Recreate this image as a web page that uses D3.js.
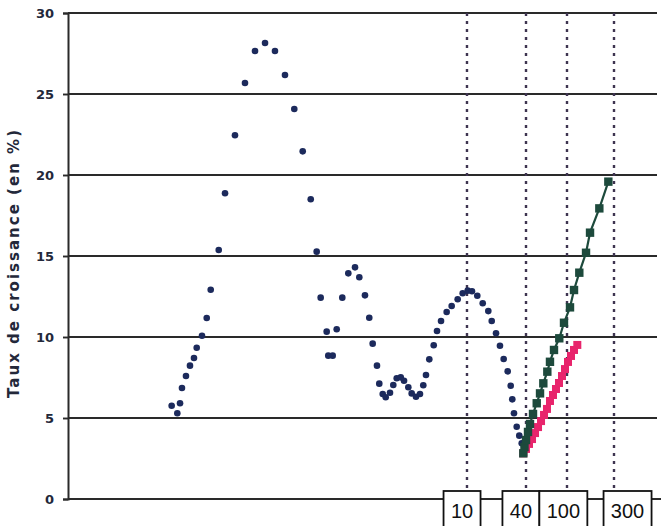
<!DOCTYPE html>
<html>
<head>
<meta charset="utf-8">
<script src="https://cdn.jsdelivr.net/npm/d3@7"></script>
<style>
  html, body { margin: 0; padding: 0; background: #fff; }
  svg { display: block; }
</style>
</head>
<body>
<svg id="chart" width="661" height="526"></svg>
<script>
// ---------- DATA ----------
const yTicks = [0, 5, 10, 15, 20, 25, 30];
const yLabel = "Taux de croissance (en %)";

// blue dotted series: [x position (abstract index), growth rate %]
const seriesBlueX = [17.6,18.56,19.02,19.35,20.03,20.71,21.39,21.85,22.75,23.55,24.23,25.59,26.66,28.35,30.05,31.75,33.45,35.14,36.84,38.42,39.85,41.21,42.22,42.9,43.92,44.19,44.94,45.62,46.57,47.59,48.73,49.46,50.42,51.15,51.73,52.46,52.85,53.43,53.94,54.67,55.23,55.81,56.49,57.05,57.78,58.35,59.08,59.76,60.32,60.78,61.34,62.09,62.65,63.33,64.29,65.14,66.16,67.01,67.86,68.59,69.49,70.41,71.36,71.94,72.67,73.34,73.97,74.65,75.16,75.43,75.72,76.18,76.62,77.03];
const seriesBlueY = [5.76,5.29,5.91,6.85,7.59,8.23,8.70,9.34,10.08,11.17,12.92,15.37,18.87,22.45,25.68,27.65,28.15,27.65,26.17,24.07,21.46,18.5,15.27,12.43,10.33,8.85,8.85,10.48,12.43,13.93,14.30,13.69,12.57,11.19,9.59,8.23,7.12,6.48,6.28,6.56,7.04,7.45,7.51,7.30,6.90,6.52,6.31,6.48,7.02,7.65,8.62,9.49,10.37,10.99,11.54,11.91,12.33,12.70,12.86,12.82,12.55,12.08,11.60,10.99,10.23,9.46,8.64,7.88,6.99,6.15,5.29,4.46,3.91,3.44];

// green series (upper projection)
const seriesGreenX = [77.30,77.50,77.76,78.10,78.44,78.95,79.58,80.14,80.70,81.38,81.83,82.51,83.41,84.21,85.23,85.91,86.81,87.95,88.63,90.21,91.74];
const seriesGreenY = [2.82,3.21,3.64,4.14,4.63,5.25,5.91,6.52,7.14,7.86,8.47,9.20,9.92,10.88,11.83,12.90,13.97,15.20,16.44,17.94,19.59];

// pink series (lower projection)
const seriesPinkX = [77.30,77.76,78.27,78.78,79.29,79.80,80.31,80.82,81.32,81.83,82.34,82.85,83.36,83.87,84.38,84.89,85.40,85.91,86.47];
const seriesPinkY = [2.82,3.09,3.40,3.70,4.07,4.44,4.81,5.19,5.56,6.05,6.42,6.79,7.16,7.59,8.02,8.46,8.83,9.20,9.51];

// vertical dotted markers and their boxed labels
const markerX = [67.74, 77.76, 84.72, 92.70];
const markerLabels = ["10", "40", "100", "300"];
const markerBoxX = [66.9, 76.9, 84.1, 95.0];   // box centres (abstract x units)

// ---------- LAYOUT ----------
const svg = d3.select("#chart");
const margin = { left: 68, right: 4, top: 13, bottom: 27 };
const W = 661, H = 526;
const x = d3.scaleLinear().domain([0, 100]).range([margin.left, W - margin.right]);
const y = d3.scaleLinear().domain([0, 30]).range([H - margin.bottom, margin.top]);

const gridColor = "#2a2a2a";

// horizontal grid lines
svg.append("g").selectAll("line").data(yTicks).join("line")
  .attr("x1", margin.left).attr("x2", d => d === 0 ? W : x(100))
  .attr("y1", d => y(d)).attr("y2", d => y(d))
  .attr("stroke", gridColor).attr("stroke-width", 1.9);

// left axis
const yAxis = d3.axisLeft(y).tickValues(yTicks).tickSize(5).tickPadding(9);
const gy = svg.append("g").attr("transform", `translate(${margin.left},0)`).call(yAxis);
gy.select(".domain").attr("stroke", gridColor).attr("stroke-width", 2);
gy.selectAll(".tick line").attr("stroke", gridColor).attr("stroke-width", 1.9);
gy.selectAll(".tick text")
  .attr("font-family", "'DejaVu Sans', sans-serif")
  .attr("font-weight", "bold").attr("font-size", 13).attr("fill", "#23283a");

// y axis title
svg.append("text")
  .attr("transform", `translate(19,${(y(0) + y(30)) / 2 + 8}) rotate(-90)`)
  .attr("text-anchor", "middle")
  .attr("font-family", "'DejaVu Sans', sans-serif")
  .attr("font-weight", "bold").attr("font-size", 15)
  .attr("textLength", 268).attr("lengthAdjust", "spacing")
  .attr("fill", "#23283a")
  .text(yLabel);

// vertical dotted markers
svg.append("g").selectAll("line").data(markerX).join("line")
  .attr("x1", d => x(d)).attr("x2", d => x(d))
  .attr("y1", y(30)).attr("y2", y(0) - 6)
  .attr("stroke", "#3e3450").attr("stroke-width", 2.4)
  .attr("stroke-dasharray", "3,5");

// blue dots
const blue = seriesBlueX.map((v, i) => [v, seriesBlueY[i]]);
svg.append("g").selectAll("circle").data(blue).join("circle")
  .attr("cx", d => x(d[0])).attr("cy", d => y(d[1])).attr("r", 3.3)
  .attr("fill", "#1c2a5c");

// pink line + squares
const pink = seriesPinkX.map((v, i) => [v, seriesPinkY[i]]);
const line = d3.line().x(d => x(d[0])).y(d => y(d[1]));
svg.append("path").datum(pink).attr("d", line)
  .attr("fill", "none").attr("stroke", "#e8246c").attr("stroke-width", 2.5);
svg.append("g").selectAll("rect").data(pink).join("rect")
  .attr("x", d => x(d[0]) - 4).attr("y", d => y(d[1]) - 4)
  .attr("width", 8).attr("height", 8)
  .attr("fill", "#e8246c");

// green line + squares
const green = seriesGreenX.map((v, i) => [v, seriesGreenY[i]]);
svg.append("path").datum(green).attr("d", line)
  .attr("fill", "none").attr("stroke", "#1d4a3c").attr("stroke-width", 2.2);
svg.append("g").selectAll("rect").data(green).join("rect")
  .attr("x", d => x(d[0]) - 4.2).attr("y", d => y(d[1]) - 4.2)
  .attr("width", 8.4).attr("height", 8.4)
  .attr("fill", "#1d4a3c");

// boxed marker labels
const boxes = svg.append("g").selectAll("g").data(markerLabels).join("g");
boxes.each(function (lab, i) {
  const g = d3.select(this);
  const w = lab.length === 2 ? 37 : 48;
  const cx = x(markerBoxX[i]);
  g.append("rect")
    .attr("x", cx - w / 2).attr("y", y(0) - 8)
    .attr("width", w).attr("height", 40)
    .attr("fill", "#fff").attr("stroke", "#111").attr("stroke-width", 1.8);
  g.append("text")
    .attr("x", cx).attr("y", y(0) + 19)
    .attr("text-anchor", "middle")
    .attr("font-family", "'Liberation Sans', Arial, sans-serif")
    .attr("font-size", 20).attr("fill", "#111")
    .text(lab);
});
</script>
</body>
</html>
